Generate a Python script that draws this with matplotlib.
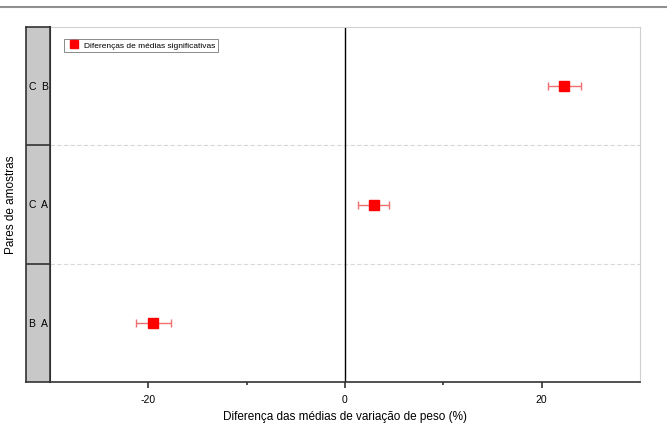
import matplotlib.pyplot as plt
from matplotlib.lines import Line2D

plt.rcParams['font.family'] = ['Liberation Sans', 'DejaVu Sans']
plt.rcParams['axes.unicode_minus'] = False

# data
pairs = [("B", "A"), ("C", "A"), ("C", "B")]
mean_diff = [-19.5, 2.9, 22.3]
ci_half = [1.8, 1.6, 1.7]
x_ticks = [-20, 0, 20]

fig = plt.figure(figsize=(6.67, 4.27), dpi=100, facecolor='white')

# top separator line (page rule)
fig.add_artist(Line2D([0, 1], [1 - 8 / 427, 1 - 8 / 427], color='#909090', lw=1.5))

left, right = 50 / 667, 640 / 667
bottom, top = 1 - 383 / 427, 1 - 28 / 427
ax = fig.add_axes([left, bottom, right - left, top - bottom])
strip = fig.add_axes([26 / 667, bottom, 24 / 667, top - bottom])

n = len(pairs)
ax.set_xlim(-30, 30)
ax.set_ylim(0, n)

# row separators
for k in range(1, n):
    ax.axhline(k, color='#d8d8d8', lw=0.8, ls=(0, (4, 2)), zorder=1)
ax.axvline(0, color='black', lw=1.0, zorder=2)

ys = [k + 0.5 for k in range(n)]
ax.errorbar(mean_diff, ys, xerr=ci_half, fmt='none', ecolor='#f07070',
            elinewidth=1.0, capsize=3, capthick=1.0, zorder=3)
ax.plot(mean_diff, ys, 's', color='#ff0000', markersize=6.5, zorder=4,
        label='Diferenças de médias significativas')

ax.set_xticks(x_ticks)
ax.set_xticks([-10, 10], minor=True)
ax.set_yticks([])
ax.tick_params(axis='x', labelsize=7.5, length=4, width=1.2, color='#333333', pad=5)
ax.tick_params(axis='x', which='minor', length=2.5, width=1.2, color='#333333')
for s in ['top', 'right']:
    ax.spines[s].set_color('#d0d0d0')
ax.spines['bottom'].set_color('#333333')
ax.spines['bottom'].set_linewidth(1.2)
ax.spines['left'].set_color('#222222')
ax.spines['left'].set_linewidth(1.5)

fig.text(345 / 667, 1 - 417 / 427, 'Diferença das médias de variação de peso (%)',
         ha='center', va='center', fontsize=8.5)

leg = ax.legend(loc='upper left', bbox_to_anchor=(0.016, 0.978), fontsize=6,
                frameon=True, fancybox=False, edgecolor='#555555',
                handletextpad=0.4, handlelength=1.8, borderpad=0.3, markerscale=0.85)
leg.get_frame().set_linewidth(0.6)

# group strip
strip.set_xlim(0, 1)
strip.set_ylim(0, n)
strip.set_facecolor('#c8c8c8')
strip.set_xticks([])
strip.set_yticks([])
for s in strip.spines.values():
    s.set_color('#333333')
    s.set_linewidth(1.2)
for k in range(1, n):
    strip.axhline(k, color='#333333', lw=1.2)
for k, (a, b) in enumerate(pairs):
    strip.text(0.25, k + 0.5, a, ha='center', va='center', fontsize=7.5)
    strip.text(0.78, k + 0.5, b, ha='center', va='center', fontsize=7.5)

fig.text(11 / 667, 1 - 205 / 427, 'Pares de amostras', rotation=90,
         ha='center', va='center', fontsize=8.5)

fig.savefig('out.png', dpi=100, facecolor='white')
